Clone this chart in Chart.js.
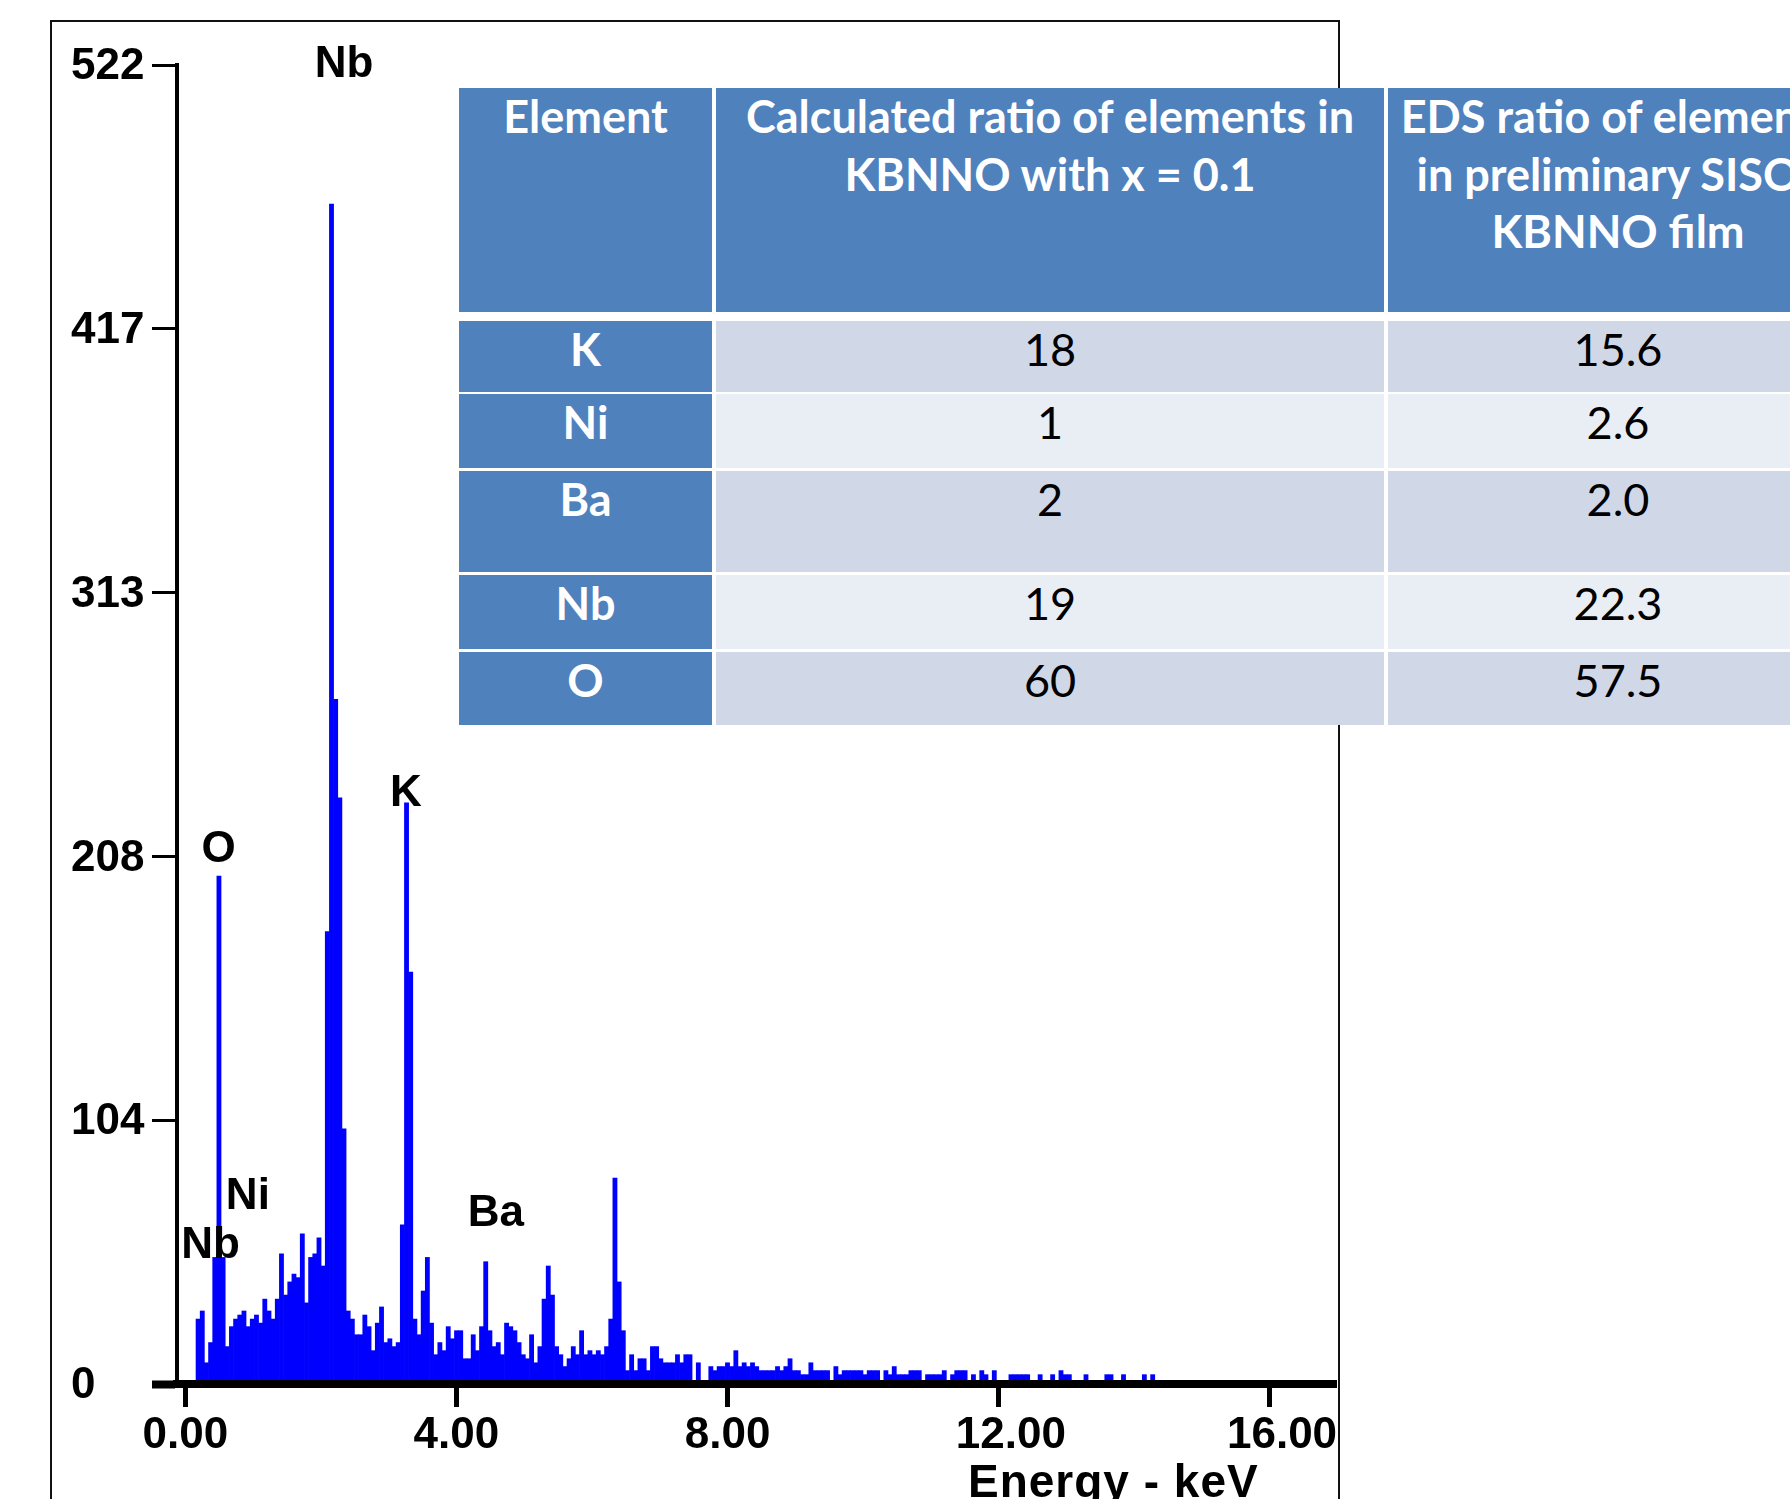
<!DOCTYPE html>
<html>
<head>
<meta charset="utf-8">
<title>EDS spectrum</title>
<script src="https://cdn.jsdelivr.net/npm/chart.js@4.4.1/dist/chart.umd.min.js"></script>
<style>
  html, body { margin: 0; padding: 0; background: #fff; overflow: hidden; }
  body { width: 1790px; height: 1499px; position: relative; }
  #frame { position: absolute; left: 50px; top: 20px; width: 1286px; height: 1600px;
           border: 2px solid #111; border-bottom: none; }
  #wrap { position: absolute; left: 0; top: 0; width: 1790px; height: 1499px; }
  #table { position: absolute; left: 459px; top: 88px; width: 1400px; height: 637px; background: #fff; }
  .cell { position: absolute; box-sizing: border-box; font-family: Lato, "Open Sans", sans-serif;
          font-size: 45px; line-height: 57.6px; text-align: center; white-space: nowrap; overflow: hidden; }
  .head { background: #4f81bd; color: #fff; font-weight: bold; }
  .dark { background: #d0d8e8; color: #000; }
  .light { background: #e9edf4; color: #000; }
</style>
</head>
<body>
<div id="frame"></div>
<div id="wrap"><canvas id="eds"></canvas></div>
<div id="table"></div>
<script>
// counts per channel (one bar per channel)
const countsPerBin = [
  25.7, 28.9, 8.4, 16.4, 50.1, 201, 50.1, 14.8, 22.7, 25.7,
  27.3, 28.9, 22.7, 25.7, 27.3, 24.1, 33.6, 28.9, 25.7, 33.6,
  51.5, 35.2, 40.4, 43.5, 42.1, 59.4, 32.1, 50.1, 51.5, 57.8,
  46.7, 179, 467, 271, 232, 101, 28.9, 25.7, 19.5, 19.5,
  27.3, 22.7, 13.2, 24.1, 30.5, 16.4, 17.9, 14.8, 16.4, 63,
  230, 163, 25.7, 19.5, 36.8, 50.1, 24.1, 11.6, 16.4, 13.2,
  22.7, 17.9, 21.1, 21.1, 10.0, 10.0, 19.5, 13.2, 22.7, 48.4,
  21.1, 14.8, 16.4, 11.6, 24.1, 22.7, 21.1, 16.4, 11.6, 10.0,
  19.5, 8.4, 14.8, 33.6, 46.7, 35.2, 14.8, 11.6, 6.9, 10.0,
  14.8, 11.6, 21.1, 11.6, 13.2, 11.6, 13.2, 11.6, 14.8, 25.7,
  81.5, 40.4, 21.1, 5.3, 11.6, 5.3, 10.0, 10.0, 5.3, 14.8,
  14.8, 10.0, 8.4, 8.4, 8.4, 11.6, 8.4, 11.6, 11.6, 0,
  8.4, 0, 0, 6.9, 5.3, 6.9, 6.9, 8.4, 6.9, 13.2,
  6.9, 8.4, 6.9, 8.4, 6.9, 5.3, 5.3, 5.3, 5.3, 6.9,
  5.3, 6.9, 10.0, 5.3, 5.3, 3.7, 3.7, 8.4, 5.3, 5.3,
  5.3, 5.3, 0, 6.9, 3.7, 5.3, 5.3, 5.3, 5.3, 5.3,
  3.7, 5.3, 5.3, 5.3, 0, 5.3, 3.7, 6.9, 3.7, 3.7,
  3.7, 5.3, 5.3, 5.3, 0, 3.7, 3.7, 3.7, 3.7, 5.3,
  0, 3.7, 5.3, 5.3, 5.3, 0, 3.7, 0, 5.3, 3.7,
  0, 5.3, 0, 0, 0, 3.7, 3.7, 3.7, 3.7, 3.7,
  0, 0, 3.7, 0, 0, 3.7, 0, 5.3, 3.7, 3.7,
  0, 0, 0, 3.7, 0, 0, 0, 0, 3.7, 3.7,
  0, 0, 3.7, 0, 0, 0, 0, 3.7, 0, 3.7
];
// energy calibration of the channels (keV)
const firstBinKeV = 0.186;
const binKeV = 0.0615;

const xTickValues = [0, 4, 8, 12, 16];
const xTickLabels = ['0.00', '4.00', '8.00', '12.00', '16.00'];
const yTickValues = [0, 104.4, 208.8, 313.2, 417.6, 522];
const yTickLabels = ['0', '104', '208', '313', '417', '522'];

const peakNames = ['Nb', 'O', 'K', 'Ni', 'Nb', 'Ba'];
const peakKeV = [2.34, 0.49, 3.25, 0.92, 0.37, 4.58];
const peakCounts = [522, 211.3, 233.6, 73.9, 54.8, 67.5];

const tableHeaders = ['Element', 'Calculated ratio of elements in<br>KBNNO with x = 0.1',
  'EDS ratio of elements<br>in preliminary SISO/<br>KBNNO film'];
const elements = ['K', 'Ni', 'Ba', 'Nb', 'O'];
const calculatedRatio = ['18', '1', '2', '19', '60'];
const edsRatio = ['15.6', '2.6', '2.0', '22.3', '57.5'];

// table layout (px, relative to the table box)
const colLeft = [0, 257, 929];
const colWidth = [253, 668, 460];
const headHeight = 224;
const rowTop = [233, 306, 383, 487, 564];
const rowHeight = [71, 74, 101, 74, 73];

const table = document.getElementById('table');
function addCell(html, cls, left, top, width, height) {
  const d = document.createElement('div');
  d.className = 'cell ' + cls;
  d.style.left = left + 'px';
  d.style.top = top + 'px';
  d.style.width = width + 'px';
  d.style.height = height + 'px';
  d.innerHTML = html;
  table.appendChild(d);
}
tableHeaders.forEach((h, c) => addCell(h, 'head', colLeft[c], 0, colWidth[c], headHeight));
elements.forEach((el, r) => {
  const shade = r % 2 === 0 ? 'dark' : 'light';
  addCell(el, 'head', colLeft[0], rowTop[r], colWidth[0], rowHeight[r]);
  addCell(calculatedRatio[r], shade, colLeft[1], rowTop[r], colWidth[1], rowHeight[r]);
  addCell(edsRatio[r], shade, colLeft[2], rowTop[r], colWidth[2], rowHeight[r]);
});

const spectrum = countsPerBin.map((c, i) => ({ x: firstBinKeV + i * binKeV, y: c }));
const axisFont = { family: '"Liberation Sans", Arial, sans-serif', size: 44, weight: 'bold', lineHeight: 1 };

const peakLabels = {
  id: 'peakLabels',
  afterDatasetsDraw(chart) {
    const { ctx, scales: { x, y } } = chart;
    ctx.save();
    ctx.fillStyle = '#000';
    ctx.font = 'bold 44px "Liberation Sans", Arial, sans-serif';
    ctx.textAlign = 'center';
    ctx.textBaseline = 'middle';
    peakNames.forEach((name, i) => {
      ctx.fillText(name, x.getPixelForValue(peakKeV[i]), y.getPixelForValue(peakCounts[i]));
    });
    // axis title sits right of centre, as in the instrument printout
    ctx.font = 'bold 46px "Liberation Sans", Arial, sans-serif';
    ctx.letterSpacing = '1px';
    ctx.textAlign = 'left';
    ctx.textBaseline = 'alphabetic';
    ctx.fillText('Energy - keV', 968, 1497);
    ctx.restore();
  }
};

new Chart(document.getElementById('eds'), {
  type: 'bar',
  data: {
    datasets: [{
      data: spectrum,
      backgroundColor: '#0000ff',
      borderWidth: 0,
      barPercentage: 1,
      categoryPercentage: 1
    }]
  },
  options: {
    responsive: true,
    maintainAspectRatio: false,
    animation: false,
    layout: { padding: { left: 71, right: 454, top: 65, bottom: 0 } },
    plugins: { legend: { display: false }, tooltip: { enabled: false } },
    scales: {
      x: {
        type: 'linear',
        min: -0.1254,
        max: 16.974,
        offset: false,
        grid: { drawOnChartArea: false, offset: false, tickLength: 23, tickWidth: 5, tickColor: '#000' },
        border: { color: '#000', width: 8, z: 1 },
        afterBuildTicks: (s) => { s.ticks = xTickValues.map((v) => ({ value: v })); },
        afterFit: (s) => { s.height = 115; },
        ticks: {
          color: '#000', font: axisFont, padding: 7, align: 'start', labelOffset: -43,
          maxRotation: 0, autoSkip: false,
          callback: (v, i) => xTickLabels[i]
        }
      },
      y: {
        min: 0,
        max: 522,
        grid: {
          drawOnChartArea: false, tickLength: 25, tickColor: '#000',
          tickWidth: (c) => (c.tick && c.tick.value === 0 ? 8 : 3)
        },
        border: { color: '#000', width: 4 },
        afterBuildTicks: (s) => { s.ticks = yTickValues.map((v) => ({ value: v })); },
        afterFit: (s) => { s.width = 106; },
        ticks: {
          color: '#000', font: axisFont, padding: 8, crossAlign: 'far', autoSkip: false,
          labelOffset: 2,
          callback: (v, i) => yTickLabels[i]
        }
      }
    }
  },
  plugins: [peakLabels]
});
</script>
</body>
</html>
